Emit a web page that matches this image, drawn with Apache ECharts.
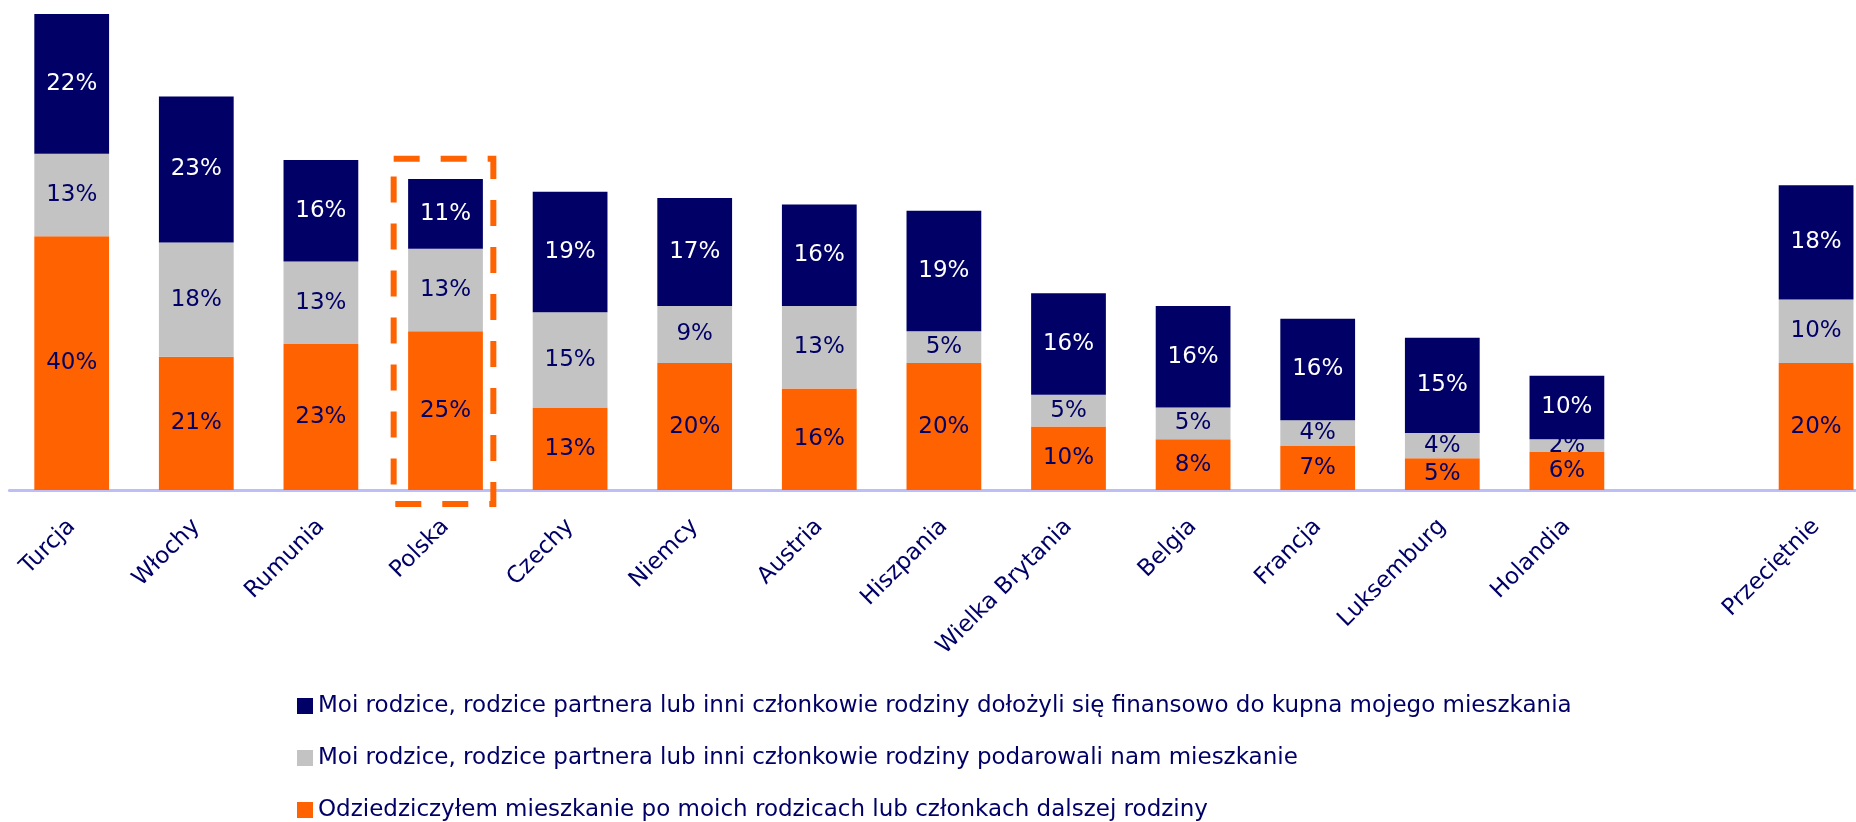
<!DOCTYPE html>
<html>
<head>
<meta charset="utf-8">
<script src="https://cdn.jsdelivr.net/npm/echarts@6/dist/echarts.min.js"></script>
<style>
html,body{margin:0;padding:0;background:#fff;}
#chart{width:1856px;height:822px;}
</style>
</head>
<body>
<div id="chart"></div>
<script>
const categories = ['Turcja','Włochy','Rumunia','Polska','Czechy','Niemcy','Austria','Hiszpania','Wielka Brytania','Belgia','Francja','Luksemburg','Holandia','','Przeciętnie'];
const inherited = [40,21,23,25,13,20,16,20,10,8,7,5,6,'-',20];
const gifted    = [13,18,13,13,15,9,13,5,5,5,4,4,2,'-',10];
const helped    = [22,23,16,11,19,17,16,19,16,16,16,15,10,'-',18];
const seriesNames = [
  'Moi rodzice, rodzice partnera lub inni członkowie rodziny dołożyli się finansowo do kupna mojego mieszkania',
  'Moi rodzice, rodzice partnera lub inni członkowie rodziny podarowali nam mieszkanie',
  'Odziedziczyłem mieszkanie po moich rodzicach lub członkach dalszej rodziny'
];
const highlighted = 'Polska';

const NAVY = '#000066', GREY = '#C3C3C3', ORANGE = '#FF6200';
const FONT = 'DejaVu Sans';

const chart = echarts.init(document.getElementById('chart'));
const lbl = (color) => ({
  show: true, position: 'inside', color: color, fontFamily: FONT, fontSize: 23,
  formatter: p => p.value + '%'
});
const hiIdx = categories.indexOf(highlighted);
const totals = categories.map((c,i) => (typeof inherited[i] === 'number') ? inherited[i]+gifted[i]+helped[i] : 0);

chart.setOption({
  animation: false,
  backgroundColor: '#fff',
  grid: { left: 9.4, width: 1869, top: 14, bottom: 332, containLabel: false, outerBoundsMode: 'none' },
  legend: {
    orient: 'vertical', left: 297, top: 694, padding: 0,
    itemWidth: 16, itemHeight: 16, itemGap: 28,
    icon: 'rect',
    data: [seriesNames[0], seriesNames[1], seriesNames[2]],
    textStyle: { color: NAVY, fontFamily: FONT, fontSize: 23, lineHeight: 24 }
  },
  xAxis: {
    type: 'category', data: categories,
    axisLine: { show: true, lineStyle: { color: '#BDBDF8', width: 3 } },
    axisTick: { show: false },
    axisLabel: { rotate: 45, color: NAVY, fontFamily: FONT, fontSize: 23, margin: 33, interval: 0 }
  },
  yAxis: { type: 'value', min: 0, max: 75, show: false, splitLine: { show: false } },
  series: [
    { name: seriesNames[2], type: 'bar', stack: 's', barWidth: '60%', data: inherited,
      itemStyle: { color: ORANGE }, label: lbl(NAVY) },
    { name: seriesNames[1], type: 'bar', stack: 's', data: gifted,
      itemStyle: { color: GREY }, label: lbl(NAVY) },
    { name: seriesNames[0], type: 'bar', stack: 's', data: helped,
      itemStyle: { color: NAVY }, label: lbl('#FFFFFF') },
    { type: 'custom', silent: true, clip: false, z: 5,
      data: [[hiIdx, totals[hiIdx]]],
      renderItem: function (params, api) {
        const idx = api.value(0);
        const band = api.size([1, 0])[0];
        const cx = api.coord([idx, 0])[0];
        const yTop = api.coord([idx, api.value(1) + 3.2])[1];
        const yBot = api.coord([idx, -2.2])[1];
        const w = band * 0.8;
        return {
          type: 'rect',
          shape: { x: cx - w/2 - 2, y: yTop, width: w, height: yBot - yTop },
          style: { fill: null, stroke: ORANGE, lineWidth: 6, lineDash: [26, 21], lineCap: 'butt' }
        };
      }
    }
  ]
});
</script>
</body>
</html>
